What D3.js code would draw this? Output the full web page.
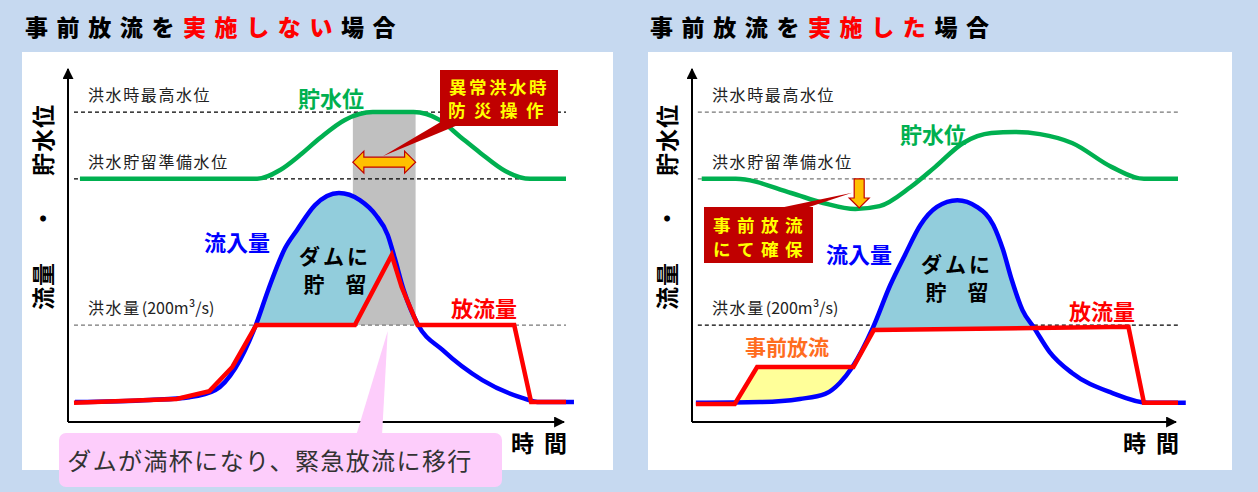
<!DOCTYPE html>
<html>
<head>
<meta charset="utf-8">
<script src="https://cdn.jsdelivr.net/npm/d3@7"></script>
<style>
  body { margin: 0; background: #c6d9f0; }
  svg { display: block; }
  text { font-family: "Noto Sans CJK JP", "Noto Sans", sans-serif; }
</style>
</head>
<body>
<div id="container"></div>
<script>
/* CONSTANTS AND GLOBALS */
const width = 1258, height = 492;

// levels (index units, 0 = time axis, 100 = top of y axis)
const highWaterLevel = 87.3;   // 洪水時最高水位
const prepLevel = 68.5;        // 洪水貯留準備水位
const floodFlow = 27.3;        // 洪水量 200m3/s

// --- case A: no pre-release --- [time, value]
const levelA = [[1.2,68.5],[19.0,68.5],[21.3,71.0],[23.3,75.2],[25.3,80.0],[27.8,85.1],[30.6,87.3],
  [34.7,87.3],[37.3,85.1],[39.4,80.3],[41.4,75.8],[43.9,70.7],[46.4,68.5],[50.0,68.5]];
const inflowA = [[0.7,5.6],[8.2,6.2],[12.2,7.0],[14.8,9.0],[16.8,15.2],[18.9,27.6],[20.1,37.2],[21.8,49.0],
  [23.0,54.1],[24.8,61.1],[27.2,64.5],[29.3,62.5],[30.9,58.3],[32.1,52.7],[32.8,46.2],[33.7,37.2],
  [35.1,27.6],[37.6,20.3],[41.6,11.8],[45.6,6.8],[47.4,5.6],[50.8,5.6]];
const outflowA = [[0.6,5.4],[10.9,6.5],[14.2,8.7],[16.5,15.5],[18.9,27.3],[28.8,27.3],[32.5,47.0],
  [33.5,38.0],[35.1,27.3],[44.8,27.3],[46.5,5.6],[50.0,5.6]];
const storeRangeA = [18.9, 35.1];
const emergencyBand = [28.6, 34.9];   // 異常洪水時防災操作

// --- case B: with pre-release ---
const levelB = [[1.0,68.5],[4.5,68.5],[10.2,64.5],[13.5,61.7],[16.8,60.0],[19.3,60.8],[22.5,66.2],
  [25.0,71.8],[27.9,78.6],[30.8,81.4],[33.2,81.7],[35.8,81.1],[39.1,78.6],[43.2,71.8],[46.5,68.5],[50.0,68.5]];
const inflowB = [[0.4,5.4],[7.0,5.6],[11.1,6.5],[13.7,7.9],[15.2,11.0],[16.5,15.5],[18.6,26.5],[20.4,38.6],
  [21.9,47.0],[23.5,55.5],[25.2,60.6],[27.3,62.5],[29.3,60.6],[31.0,55.5],[32.0,48.5],[32.9,40.0],
  [34.0,31.5],[35.2,26.5],[36.8,19.7],[39.1,13.8],[43.2,8.2],[46.9,5.4],[50.8,5.4]];
const outflowB = [[0.4,5.1],[4.4,5.1],[6.7,15.5],[16.6,15.5],[18.7,25.9],[44.9,26.8],[46.5,5.4],[50.0,5.4]];
const storeRangeB = [18.6, 35.2];
const preReleaseRange = [4.4, 16.6];
const troughB = [17.2, 60.0];

const colors = { level: "#00b050", inflow: "#0000ff", outflow: "#ff0000", store: "#92cddc",
  pre: "#ffff99", gray: "#c0c0c0", box: "#c00000", boxText: "#ffff00", arrow: "#ffc000" };

const svg = d3.select("#container").append("svg")
  .attr("width", width).attr("height", height);

const defs = svg.append("defs");
defs.append("marker").attr("id", "arrowHead")
  .attr("viewBox", "0 0 10 10").attr("refX", 9).attr("refY", 5)
  .attr("markerWidth", 11).attr("markerHeight", 11).attr("markerUnits", "userSpaceOnUse")
  .attr("orient", "auto")
  .append("path").attr("d", "M0,0L10,5L0,10Z").attr("fill", "#000");

function drawPanel(cfg) {
  const g = svg.append("g");

  // white panel
  g.append("rect").attr("x", cfg.box[0]).attr("y", 52)
    .attr("width", cfg.box[1] - cfg.box[0]).attr("height", 418).attr("fill", "#fff");

  // title
  const title = g.append("text").attr("x", cfg.titleX).attr("y", 36)
    .attr("font-size", 23).attr("font-weight", 900).attr("letter-spacing", 8.6);
  title.append("tspan").text("事前放流を");
  title.append("tspan").attr("fill", "#ff0000").text(cfg.titleRed);
  title.append("tspan").text("場合");

  const x = d3.scaleLinear().domain([0, 50]).range([cfg.x0, cfg.x1]);
  const y = d3.scaleLinear().domain([0, 100]).range([422, 67]);
  const line = d3.line().x(d => x(d[0])).y(d => y(d[1]));
  const smooth = d3.line().x(d => x(d[0])).y(d => y(d[1])).curve(d3.curveMonotoneX);

  // axes (no ticks)
  g.append("line").attr("x1", x(0)).attr("x2", x(0)).attr("y1", y(0)).attr("y2", y(100) + 2)
    .attr("stroke", "#000").attr("stroke-width", 2).attr("marker-end", "url(#arrowHead)");
  g.append("line").attr("x1", x(0)).attr("x2", x(50) - 2).attr("y1", y(0)).attr("y2", y(0))
    .attr("stroke", "#000").attr("stroke-width", 2).attr("marker-end", "url(#arrowHead)");

  g.append("text").attr("x", x(50) + 11).attr("y", 452).attr("text-anchor", "end")
    .attr("font-size", 23).attr("font-weight", "bold").attr("letter-spacing", 10).text("時間");

  // rotated y label
  [["流量", 286], ["・", 218], ["貯水位", 140]].forEach(([t, cy]) => {
    g.append("text").attr("transform", `translate(${x(0) - 16},${cy}) rotate(-90)`)
      .attr("text-anchor", "middle").attr("font-size", 23).attr("font-weight", "bold")
      .attr("letter-spacing", 1).text(t);
  });

  // gray band (case A only)
  if (cfg.band) {
    g.append("rect").attr("x", x(cfg.band[0])).attr("width", x(cfg.band[1]) - x(cfg.band[0]))
      .attr("y", y(highWaterLevel)).attr("height", y(floodFlow) - y(highWaterLevel))
      .attr("fill", colors.gray);
  }

  // reference lines
  const refs = [
    { v: highWaterLevel, label: "洪水時最高水位", unit: "", color: cfg.dash[0] },
    { v: prepLevel, label: "洪水貯留準備水位", unit: "", color: cfg.dash[1] },
    { v: floodFlow, label: "洪水量", unit: "(200m³/s)", color: cfg.dash[2] }
  ];
  refs.forEach(r => {
    g.append("line").attr("x1", x(0.6)).attr("x2", x(50)).attr("y1", y(r.v)).attr("y2", y(r.v))
      .attr("stroke", r.color).attr("stroke-width", 1.3).attr("stroke-dasharray", "4,3");
    const t = g.append("text").attr("x", x(0) + 20).attr("y", y(r.v) - 11)
      .attr("font-size", 16).attr("fill", "#222");
    t.append("tspan").attr("letter-spacing", 1.6).text(r.label);
    if (r.unit) t.append("tspan").attr("dx", 1).text(r.unit);
  });

  // stored water fill: under inflow, above outflow
  const clipId = "clip" + cfg.id;
  defs.append("clipPath").attr("id", clipId).append("path")
    .attr("d", d3.area().x(d => x(d[0])).y0(y(100)).y1(d => y(d[1]))(cfg.outflow));
  g.append("path")
    .attr("d", d3.area().x(d => x(d[0])).y0(y(floodFlow - 2)).y1(d => y(d[1])).curve(d3.curveMonotoneX)
      (cfg.inflow.filter(d => d[0] >= cfg.store[0] - 2 && d[0] <= cfg.store[1] + 2)))
    .attr("clip-path", `url(#${clipId})`).attr("fill", colors.store);

  // pre-release fill: under outflow, above inflow
  if (cfg.pre) {
    const preClip = "preclip" + cfg.id;
    defs.append("clipPath").attr("id", preClip).append("path")
      .attr("d", d3.area().x(d => x(d[0])).y0(y(100)).y1(d => y(d[1])).curve(d3.curveMonotoneX)(cfg.inflow));
    g.append("path")
      .attr("d", d3.area().x(d => x(d[0])).y0(y(0)).y1(d => y(d[1]))
        (cfg.outflow.filter(d => d[0] >= cfg.pre[0] - 3 && d[0] <= cfg.pre[1] + 3)))
      .attr("clip-path", `url(#${preClip})`)
      .attr("fill", colors.pre);
  }

  // curves
  g.append("path").attr("d", smooth(cfg.level)).attr("fill", "none")
    .attr("stroke", colors.level).attr("stroke-width", 4.5);
  g.append("path").attr("d", smooth(cfg.inflow)).attr("fill", "none")
    .attr("stroke", colors.inflow).attr("stroke-width", 4.5);
  g.append("path").attr("d", line(cfg.outflow)).attr("fill", "none")
    .attr("stroke", colors.outflow).attr("stroke-width", 4.5).attr("stroke-linejoin", "miter");

  // series labels
  const label = (t, px, py, fill, size) => g.append("text").attr("x", px).attr("y", py)
    .attr("text-anchor", "middle").attr("dominant-baseline", "central")
    .attr("font-size", size || 22).attr("font-weight", "bold").attr("fill", fill).text(t);
  label("貯水位", cfg.labels.level[0], cfg.labels.level[1], colors.level);
  label("流入量", cfg.labels.inflow[0], cfg.labels.inflow[1], colors.inflow);
  label("放流量", cfg.labels.outflow[0], cfg.labels.outflow[1], colors.outflow);
  label("ダムに", cfg.labels.store[0], cfg.labels.store[1], "#000", 21).attr("letter-spacing", 3);
  label("貯　留", cfg.labels.store[0], cfg.labels.store[1] + 28, "#000", 21);

  return { g, x, y };
}

/* CASE A */
const A = drawPanel({
  id: "A", box: [22, 613], titleX: 25, titleRed: "実施しない", x0: 68, x1: 566,
  dash: ["#000", "#000", "#777"], level: levelA, inflow: inflowA, outflow: outflowA,
  store: storeRangeA, band: emergencyBand,
  labels: { level: [331, 97], inflow: [237, 241], outflow: [484, 307], store: [335, 255] }
});

// double arrow in the band
(function () {
  const { g, x, y } = A;
  const xa = x(emergencyBand[0]), xb = x(emergencyBand[1]), yc = y(73.2);
  const h = 11, s = 5;
  g.append("path")
    .attr("d", `M${xa},${yc} L${xa + h},${yc - h} L${xa + h},${yc - s} L${xb - h},${yc - s} L${xb - h},${yc - h}
      L${xb},${yc} L${xb - h},${yc + h} L${xb - h},${yc + s} L${xa + h},${yc + s} L${xa + h},${yc + h} Z`)
    .attr("fill", colors.arrow).attr("stroke", "#c00000").attr("stroke-width", 1.2);

  // callout box
  g.append("path").attr("d", `M444,120 L470,120 L${x(31.6)},${yc - 6} Z`).attr("fill", colors.box);
  g.append("rect").attr("x", 440).attr("y", 70).attr("width", 118).attr("height", 56).attr("fill", colors.box);
  g.append("text").attr("x", 499).attr("y", 86).attr("text-anchor", "middle").attr("dominant-baseline", "central")
    .attr("font-size", 17.5).attr("font-weight", "bold").attr("letter-spacing", 2.5).attr("fill", colors.boxText)
    .text("異常洪水時");
  g.append("text").attr("x", 500).attr("y", 109).attr("text-anchor", "middle").attr("dominant-baseline", "central")
    .attr("font-size", 17.5).attr("font-weight", "bold").attr("letter-spacing", 8.5).attr("fill", colors.boxText)
    .text("防災操作");

  // pink note
  g.append("path").attr("d", `M356,436 L382,436 L${x(32.1)},${y(floodFlow) + 6} Z`)
    .attr("fill", "#fdcdfb");
  g.append("rect").attr("x", 59).attr("y", 433).attr("width", 443).attr("height", 54).attr("rx", 7)
    .attr("fill", "#fdcdfb");
  g.append("text").attr("x", 270).attr("y", 459).attr("text-anchor", "middle").attr("dominant-baseline", "central")
    .attr("font-size", 24).attr("letter-spacing", 1.4).attr("fill", "#333")
    .text("ダムが満杯になり、緊急放流に移行");
})();

/* CASE B */
const B = drawPanel({
  id: "B", box: [648, 1232], titleX: 650, titleRed: "実施した", x0: 692, x1: 1178,
  dash: ["#777", "#777", "#000"], level: levelB, inflow: inflowB, outflow: outflowB,
  store: storeRangeB, pre: preReleaseRange,
  labels: { level: [933, 133], inflow: [859, 253], outflow: [1102, 310], store: [957, 263] }
});

(function () {
  const { g, x, y } = B;
  // pre-release label
  g.append("text").attr("x", 787).attr("y", 346).attr("text-anchor", "middle").attr("dominant-baseline", "central")
    .attr("font-size", 21).attr("font-weight", "bold").attr("fill", "#ff6d1f").text("事前放流");

  // down arrow to trough
  const xc = x(troughB[0]), yt = y(prepLevel), yb = y(troughB[1]) - 1;
  g.append("path")
    .attr("d", `M${xc - 5},${yt} L${xc + 5},${yt} L${xc + 5},${yb - 10} L${xc + 10},${yb - 10} L${xc},${yb}
      L${xc - 10},${yb - 10} L${xc - 5},${yb - 10} Z`)
    .attr("fill", colors.arrow).attr("stroke", "#c00000").attr("stroke-width", 1.2);

  // callout
  g.append("path").attr("d", `M770,210 L800,210 L${xc - 7},${y(64.6)} Z`).attr("fill", colors.box);
  g.append("rect").attr("x", 704).attr("y", 207).attr("width", 109).attr("height", 56).attr("fill", colors.box);
  g.append("text").attr("x", 761).attr("y", 224).attr("text-anchor", "middle").attr("dominant-baseline", "central")
    .attr("font-size", 17.5).attr("font-weight", "bold").attr("letter-spacing", 6.5).attr("fill", colors.boxText)
    .text("事前放流");
  g.append("text").attr("x", 761).attr("y", 248).attr("text-anchor", "middle").attr("dominant-baseline", "central")
    .attr("font-size", 17.5).attr("font-weight", "bold").attr("letter-spacing", 6.5).attr("fill", colors.boxText)
    .text("にて確保");
})();
</script>
</body>
</html>
